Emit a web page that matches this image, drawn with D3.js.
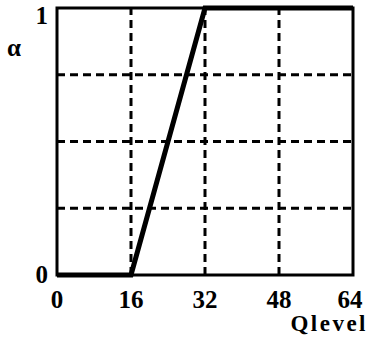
<!DOCTYPE html>
<html>
<head>
<meta charset="utf-8">
<script src="https://cdn.jsdelivr.net/npm/d3@7"></script>
<style>
  body { margin: 0; background: #fff; }
  text { font-family: "Liberation Serif", "DejaVu Serif", serif; font-weight: bold; fill: #000; }
</style>
</head>
<body>
<div id="chart"></div>
<script>
// data
var qlevel = [0, 16, 32, 64];
var alpha = [0, 0, 1, 1];
var xTicks = [0, 16, 32, 48, 64];
var yTicks = [0, 1];
var yGrid = [0.25, 0.5, 0.75];
var xGrid = [16, 32, 48];

var width = 369, height = 340;
var margin = {left: 57, right: 16, top: 8, bottom: 65};

var svg = d3.select('#chart').append('svg')
  .attr('width', width)
  .attr('height', height);

var x = d3.scaleLinear().domain([0, 64]).range([margin.left, width - margin.right]);
var y = d3.scaleLinear().domain([0, 1]).range([height - margin.bottom, margin.top]);

// dashed grid
svg.selectAll('.vgrid')
  .data(xGrid)
  .enter().append('line')
  .attr('x1', d => x(d)).attr('x2', d => x(d))
  .attr('y1', y(0)).attr('y2', y(1))
  .attr('stroke', '#000')
  .attr('stroke-width', 3)
  .attr('stroke-dasharray', '8,5');

svg.selectAll('.hgrid')
  .data(yGrid)
  .enter().append('line')
  .attr('x1', x(0)).attr('x2', x(64))
  .attr('y1', d => y(d)).attr('y2', d => y(d))
  .attr('stroke', '#000')
  .attr('stroke-width', 3)
  .attr('stroke-dasharray', '8,5');

// frame
svg.append('rect')
  .attr('x', x(0)).attr('y', y(1))
  .attr('width', x(64) - x(0))
  .attr('height', y(0) - y(1))
  .attr('fill', 'none')
  .attr('stroke', '#000')
  .attr('stroke-width', 3);

// the curve
var line = d3.line()
  .x(d => x(d[0]))
  .y(d => y(d[1]));

svg.append('path')
  .datum(d3.zip(qlevel, alpha))
  .attr('d', line)
  .attr('fill', 'none')
  .attr('stroke', '#000')
  .attr('stroke-width', 5)
  .attr('stroke-linejoin', 'miter');

// tick labels
svg.selectAll('.xlab')
  .data(xTicks)
  .enter().append('text')
  .attr('x', d => x(d) - (d == 64 ? 3 : 0))
  .attr('y', y(0) + 33)
  .attr('text-anchor', 'middle')
  .style('font-size', '25px')
  .text(d => d);

svg.selectAll('.ylab')
  .data(yTicks)
  .enter().append('text')
  .attr('x', x(0) - 9)
  .attr('y', d => y(d) + (d == 1 ? 16 : 8))
  .attr('text-anchor', 'end')
  .style('font-size', '25px')
  .text(d => d);

// axis titles
svg.append('text')
  .attr('x', 14)
  .attr('y', 56)
  .attr('text-anchor', 'middle')
  .style('font-size', '25px')
  .text('α');

svg.append('text')
  .attr('x', 368)
  .attr('y', 331)
  .attr('text-anchor', 'end')
  .style('font-size', '23px')
  .style('letter-spacing', '2.5px')
  .text('Qlevel');
</script>
</body>
</html>
